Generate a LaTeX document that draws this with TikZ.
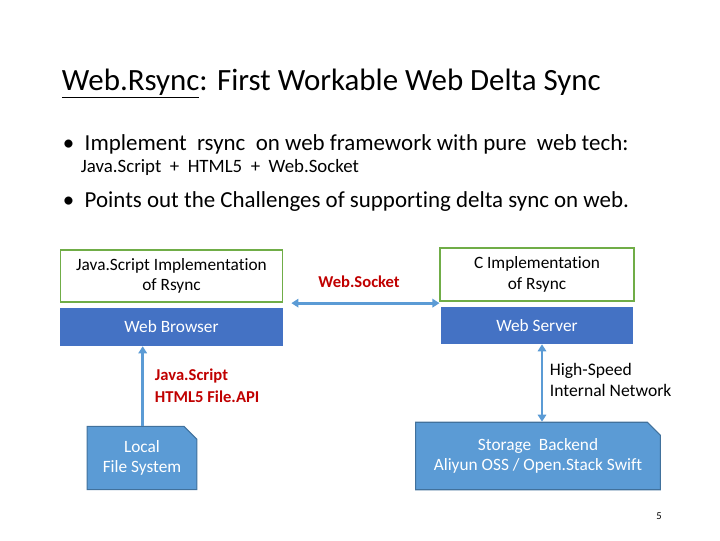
\documentclass[tikz,border=0pt]{standalone}
\usepackage{fontspec}
\setmainfont[Ligatures={NoCommon}]{Carlito}
\usetikzlibrary{shapes.misc,arrows.meta}
\definecolor{barblue}{HTML}{4472C4}
\definecolor{boxblue}{HTML}{5B9BD5}
\definecolor{edgeblue}{HTML}{41719C}
\definecolor{implgreen}{HTML}{70AD47}
\definecolor{darkred}{HTML}{C00000}
\tikzset{
    GB/.style ={rectangle, draw=implgreen, line width=1.2pt, fill=white, align=center, font=\fontsize{12.3}{14.5}\selectfont},
    BB/.style ={rectangle, fill=barblue, text=white, font=\fontsize{12.3}{14.5}\selectfont},
    FB/.style ={chamfered rectangle, chamfered rectangle corners=north east, chamfered rectangle xsep=6pt,
                draw=edgeblue, line width=0.8pt, fill=boxblue, text=white, align=center, font=\fontsize{12.3}{14.5}\selectfont},
    AR/.style ={draw=boxblue, line width=2pt, -{Triangle[length=5pt,width=6pt]}},
    LB/.style ={align=left, font=\bfseries\fontsize{11.8}{15.5}\selectfont}}

\begin{document}
\begin{tikzpicture}[x=0.025cm,y=-0.025cm]
        \useasboundingbox (0,0) rectangle (720,540);
        % title and bullets
        \node[anchor=base west, font=\fontsize{22}{24}\selectfont] (title) at (57,90) {\underline{Web.Rsync}: First Workable Web Delta Sync};
        \node[anchor=base west, font=\fontsize{16.3}{18}\selectfont] (b1) at (58,150) {\textbullet\ \ Implement\ \ rsync\ \ on web framework with pure\ \ web tech:};
        \node[anchor=base west, font=\fontsize{13.4}{15}\selectfont] (b1s) at (76,172) {Java.Script\ \ +\ \ HTML5\ \ +\ \ Web.Socket};
        \node[anchor=base west, font=\fontsize{16.3}{18}\selectfont] (b2) at (58,207) {\textbullet\ \ Points out the Challenges of supporting delta sync on web.};
        % client side
        \node[GB, minimum width=157.9pt, minimum height=37.4pt] (jsimpl) at (171.5,276) {Java.Script Implementation\\of Rsync};
        \node[BB, minimum width=158.6pt, minimum height=27pt] (browser) at (171.5,327) {Web Browser};
        \node[FB, minimum width=78pt, minimum height=45pt] (localfs) at (142,458) {Local\\File System};
        % server side
        \node[GB, minimum width=137.5pt, minimum height=37.4pt] (cimpl) at (537,274.5) {C Implementation\\of Rsync};
        \node[BB, minimum width=136.5pt, minimum height=26.3pt] (server) at (537,325.5) {Web Server};
        \node[FB, minimum width=174pt, minimum height=48pt] (storage) at (538,456) {Storage\ \ Backend\\Aliyun OSS / Open.Stack Swift};
        % connectors
        \draw[AR, {Triangle[length=5pt,width=6pt]}-{Triangle[length=5pt,width=6pt]}] (jsimpl.south east) ++(8,0) coordinate (wsL) -- (cimpl.south west |- wsL) coordinate[xshift=-2] (wsR);
        \node[text=darkred, LB] (wslbl) at (359,282) {Web.Socket};
        \draw[AR] (localfs.north -| browser.south west) ++(83,0) coordinate (fsA) -- (fsA |- browser.south);
        \node[text=darkred, LB, anchor=west] (apilbl) at (150,386) {Java.Script\\HTML5 File.API};
        \draw[AR, {Triangle[length=5pt,width=6pt]}-{Triangle[length=5pt,width=6pt]}] (server.south -| 542,0) coordinate (netA) -- (netA |- storage.north);
        \node[LB, font=\fontsize{12.5}{15.5}\selectfont, anchor=west] (netlbl) at (545,380) {High-Speed\\Internal Network};
        \node[font=\fontsize{7.5}{9}\selectfont] (page) at (659,516) {5};
    \end{tikzpicture}
\end{document}
